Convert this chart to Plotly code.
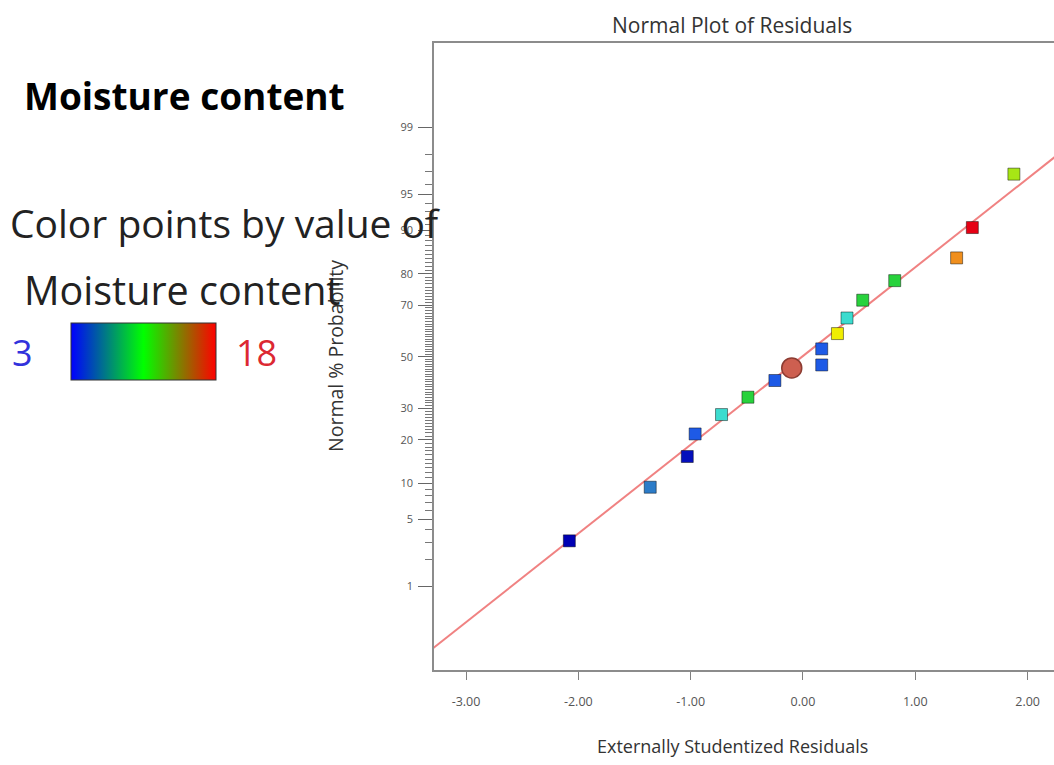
import plotly.graph_objects as go
from statistics import NormalDist

# ---------------- data ----------------
residuals = [-2.08, -1.36, -1.03, -0.96, -0.725, -0.49, -0.25, 0.167, 0.167,
             0.307, 0.392, 0.532, 0.817, 1.368, 1.508, 1.878]
probability = [3.1, 9.3, 15.6, 21.7, 27.9, 34.1, 40.5, 53.2, 46.7,
               59.3, 65.3, 71.7, 78.0, 84.2, 90.5, 96.8]
moisture = [3.0, 6.0, 3.3, 4.8, 8.0, 10.5, 4.8, 4.8, 4.8,
            14.3, 8.0, 10.5, 10.5, 16.0, 18.0, 13.0]

highlight_residual = [-0.10]
highlight_probability = [45.5]

fit_x = [-3.4, 2.4]
fit_slope = 0.90
fit_intercept = 0.008

prob_ticks = [1, 5, 10, 20, 30, 50, 70, 80, 90, 95, 99]
minor_prob = [p for p in range(1, 100) if p not in prob_ticks]
x_ticks = [-3, -2, -1, 0, 1, 2]
x_tick_labels = ["-3.00", "-2.00", "-1.00", "0.00", "1.00", "2.00"]
color_min, color_max = 3, 18

# ---------------- helpers ----------------
nd = NormalDist()
def z(p):
    return nd.inv_cdf(p / 100.0)

W, H = 1054, 765
L, R, T, B = 434, 0, 43, 95
PW, PH = W - L - R, H - T - B
def px(xp):
    return (xp - L) / PW
def py(yp):
    return (H - B - yp) / PH

FONT = "Open Sans"

point_scale = [
    [0.00, "#0000b4"],
    [0.12, "#1e5ae6"],
    [0.20, "#2c7cc8"],
    [0.33, "#3cdcd2"],
    [0.50, "#28d23c"],
    [0.67, "#aae614"],
    [0.75, "#f0f000"],
    [0.87, "#f08c1e"],
    [1.00, "#e60014"],
]
bar_scale = [[0.0, "rgb(0,0,255)"], [0.5, "rgb(0,255,0)"], [1.0, "rgb(255,0,0)"]]

fig = go.Figure()

# fitted line
fig.add_trace(go.Scatter(
    x=fit_x, y=[fit_slope * v + fit_intercept for v in fit_x],
    mode="lines", line=dict(color="#f08282", width=2),
    hoverinfo="skip", showlegend=False))

# residual points
fig.add_trace(go.Scatter(
    x=residuals, y=[z(p) for p in probability], mode="markers",
    marker=dict(symbol="square", size=12, color=moisture, cmin=color_min, cmax=color_max,
                colorscale=point_scale, showscale=False,
                line=dict(color="rgba(0,0,0,0.45)", width=1)),
    showlegend=False))

# highlighted point
fig.add_trace(go.Scatter(
    x=highlight_residual, y=[z(p) for p in highlight_probability], mode="markers",
    marker=dict(symbol="circle", size=20, color="#cd5f50",
                line=dict(color="#8c3c32", width=1.5)),
    showlegend=False))

# colour key
fig.add_trace(go.Scatter(
    x=[None], y=[None], mode="markers",
    marker=dict(color=[color_min], cmin=color_min, cmax=color_max, colorscale=bar_scale,
                showscale=True,
                colorbar=dict(orientation="h", x=px(143.5), xanchor="center",
                              y=py(352), yanchor="middle",
                              lenmode="pixels", len=145, thickness=57,
                              outlinewidth=1, outlinecolor="#333333",
                              xpad=0, ypad=0, showticklabels=False, ticks="")),
    hoverinfo="skip", showlegend=False))

fig.update_layout(
    width=W, height=H, margin=dict(l=L, r=R, t=T, b=B),
    paper_bgcolor="white", plot_bgcolor="white",
    font=dict(family=FONT, color="#444444"),
    xaxis=dict(range=[-3.285, 2.235], tickvals=x_ticks, ticktext=x_tick_labels,
               ticks="outside", ticklen=8, tickcolor="#808080", tickwidth=1,
               ticklabelstandoff=11,
               showline=True, linecolor="#8c8c8c", linewidth=1.5, mirror=True,
               showgrid=False, zeroline=False,
               tickfont=dict(size=12.5, color="#555555", family=FONT)),
    yaxis=dict(range=[-3.176, 3.182], tickvals=[z(p) for p in prob_ticks],
               ticktext=[str(p) for p in prob_ticks],
               ticks="outside", ticklen=14, tickcolor="#666666", tickwidth=1,
               ticklabelstandoff=3,
               showline=True, linecolor="#8c8c8c", linewidth=1.5,
               showgrid=False, zeroline=False,
               tickfont=dict(size=11, color="#555555", family=FONT),
               minor=dict(tickmode="array", tickvals=[z(p) for p in minor_prob],
                          ticks="outside", ticklen=7, tickcolor="#777777",
                          tickwidth=1, showgrid=False)),
)

ann = [
    dict(text="Normal Plot of Residuals", x=px(732), y=py(25), xanchor="center",
         yanchor="middle", font=dict(size=21, color="#333333")),
    dict(text="Externally Studentized Residuals", x=px(732), y=py(746), xanchor="center",
         yanchor="middle", font=dict(size=18, color="#333333")),
    dict(text="Normal % Probability", x=px(335), y=py(356), xanchor="center",
         yanchor="middle", textangle=-90, font=dict(size=19.5, color="#333333")),
    dict(text="<b>Moisture content</b>", x=px(22), y=py(95), xanchor="left",
         yanchor="middle", font=dict(size=37, color="#000000")),
    dict(text="Color points by value of", x=px(8), y=py(222), xanchor="left",
         yanchor="middle", font=dict(size=39, color="#222222")),
    dict(text="Moisture content", x=px(22), y=py(290), xanchor="left",
         yanchor="middle", font=dict(size=39.5, color="#222222")),
    dict(text="3", x=px(22), y=py(352), xanchor="center",
         yanchor="middle", font=dict(size=36, color="#3232dc")),
    dict(text="18", x=px(256), y=py(352), xanchor="center",
         yanchor="middle", font=dict(size=36, color="#dc2832")),
]
for a in ann:
    a.update(xref="paper", yref="paper", showarrow=False)
fig.update_layout(annotations=ann)

fig.write_html("out.html")
